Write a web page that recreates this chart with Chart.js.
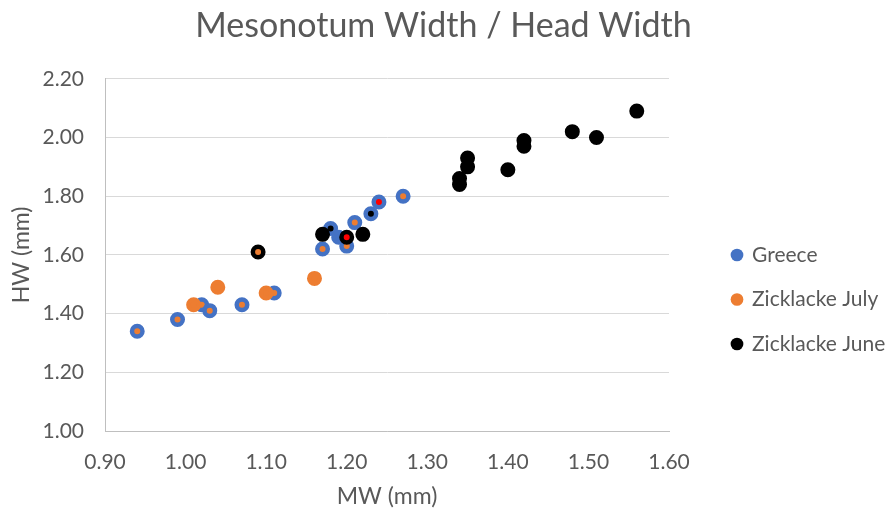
<!DOCTYPE html>
<html lang="en">
<head>
    <script src="https://cdn.jsdelivr.net/npm/chart.js"></script>
    <style>
        html, body {
            margin: 0;
            padding: 0;
            background: #ffffff;
        }
        #wrap {
            width: 887px;
            height: 511px;
            position: relative;
        }
    </style>
</head>
<body>
    <div id="wrap">
        <canvas id="myChart"></canvas>
    </div>

    <script>
        // data
        const greeceX = [0.94, 0.99, 1.02, 1.03, 1.07, 1.11, 1.17, 1.18, 1.19, 1.20, 1.21, 1.23, 1.24, 1.27];
        const greeceY = [1.34, 1.38, 1.43, 1.41, 1.43, 1.47, 1.62, 1.69, 1.66, 1.63, 1.71, 1.74, 1.78, 1.80];
        const julyX = [1.01, 1.04, 1.10, 1.16];
        const julyY = [1.43, 1.49, 1.47, 1.52];
        const juneX = [1.09, 1.17, 1.20, 1.22, 1.34, 1.34, 1.35, 1.35, 1.40, 1.42, 1.42, 1.48, 1.51, 1.56];
        const juneY = [1.61, 1.67, 1.66, 1.67, 1.84, 1.86, 1.90, 1.93, 1.89, 1.97, 1.99, 2.02, 2.00, 2.09];

        const xTicks = [0.9, 1.0, 1.1, 1.2, 1.3, 1.4, 1.5, 1.6];
        const yTicks = [1.0, 1.2, 1.4, 1.6, 1.8, 2.0, 2.2];

        const BLUE = '#4472C4';
        const ORANGE = '#ED7D31';
        const BLACK = '#000000';
        const RED = '#FF0000';
        const GREY = '#595959';

        // little dots in the middle of some markers, as in the picture
        const greeceCenters = [ORANGE, ORANGE, ORANGE, ORANGE, ORANGE, ORANGE, ORANGE, BLACK, BLUE, ORANGE, ORANGE, BLACK, RED, ORANGE];
        const juneCenters = [ORANGE, BLACK, RED, BLACK, BLACK, BLACK, BLACK, BLACK, BLACK, BLACK, BLACK, BLACK, BLACK, BLACK];

        function pts(xs, ys) {
            return xs.map((x, i) => ({ x: x, y: ys[i] }));
        }

        const FONT = 'Lato, "Open Sans", sans-serif';

        // fixed legend column width, and a gap between plot and legend
        const legendBox = {
            id: 'legendBox',
            beforeLayout(c) {
                const lg = c.legend;
                if (lg && !lg._fixed) {
                    const fit = lg.fit;
                    lg.fit = function () {
                        fit.call(this);
                        this.width = 218;
                    };
                    lg._fixed = true;
                }
            },
            afterLayout(c) {
                if (c.legend) {
                    c.legend.left += 40;
                    c.legend.right += 40;
                }
            }
        };

        const ctx = document.getElementById('myChart').getContext('2d');
        const chart = new Chart(ctx, {
            type: 'scatter',
            plugins: [legendBox],
            data: {
                datasets: [{
                    label: 'Greece',
                    data: pts(greeceX, greeceY),
                    borderColor: BLUE,
                    backgroundColor: greeceCenters,
                    pointRadius: 5.25,
                    pointBorderWidth: 4.5,
                    pointHoverRadius: 5.25,
                    order: 3
                }, {
                    label: 'Zicklacke July',
                    data: pts(julyX, julyY),
                    borderColor: ORANGE,
                    backgroundColor: ORANGE,
                    pointRadius: 5.25,
                    pointBorderWidth: 4.5,
                    pointHoverRadius: 5.25,
                    order: 2
                }, {
                    label: 'Zicklacke June',
                    data: pts(juneX, juneY),
                    borderColor: BLACK,
                    backgroundColor: juneCenters,
                    pointRadius: 5.25,
                    pointBorderWidth: 4.5,
                    pointHoverRadius: 5.25,
                    order: 1
                }]
            },
            options: {
                responsive: true,
                maintainAspectRatio: false,
                animation: false,
                layout: {
                    padding: 0
                },
                plugins: {
                    tooltip: { enabled: false },
                    title: {
                        display: true,
                        text: 'Mesonotum Width / Head Width',
                        color: GREY,
                        font: { family: FONT, size: 34, weight: 'normal' },
                        padding: { top: 6, bottom: 32 }
                    },
                    legend: {
                        position: 'right',
                        reverse: true,
                        title: {
                            display: true,
                            text: ' ',
                            font: { size: 10 },
                            padding: 38
                        },
                        labels: {
                            usePointStyle: true,
                            pointStyle: 'circle',
                            boxWidth: 9,
                            boxHeight: 9,
                            padding: 23.5,
                            color: GREY,
                            font: { family: FONT, size: 21 },
                            generateLabels: function (c) {
                                const items = Chart.defaults.plugins.legend.labels.generateLabels(c);
                                items.forEach(it => {
                                    it.fillStyle = it.strokeStyle;
                                    it.lineWidth = 0;
                                });
                                return items;
                            }
                        }
                    }
                },
                scales: {
                    x: {
                        type: 'linear',
                        min: 0.9,
                        max: 1.6,
                        afterBuildTicks: function (axis) {
                            axis.ticks = xTicks.map(v => ({ value: v }));
                        },
                        afterFit: function (axis) {
                            axis.height = 80;
                        },
                        grid: { display: false, drawTicks: false },
                        border: { display: true, color: '#BFBFBF', width: 1 },
                        ticks: {
                            color: GREY,
                            padding: 19,
                            font: { family: FONT, size: 21 },
                            callback: v => v.toFixed(2)
                        },
                        title: {
                            display: true,
                            text: 'MW (mm)',
                            color: GREY,
                            font: { family: FONT, size: 23 },
                            padding: { top: 4, bottom: 1 }
                        }
                    },
                    y: {
                        type: 'linear',
                        min: 1.0,
                        max: 2.2,
                        afterBuildTicks: function (axis) {
                            axis.ticks = yTicks.map(v => ({ value: v }));
                        },
                        afterFit: function (axis) {
                            axis.width = 105;
                        },
                        grid: { color: '#D9D9D9', lineWidth: 1, drawTicks: false },
                        border: { display: true, color: '#BFBFBF', width: 1 },
                        ticks: {
                            color: GREY,
                            padding: 21,
                            font: { family: FONT, size: 21 },
                            callback: v => v.toFixed(2)
                        },
                        title: {
                            display: true,
                            text: 'HW (mm)',
                            color: GREY,
                            font: { family: FONT, size: 23 },
                            padding: { top: 8, bottom: 0 }
                        }
                    }
                }
            }
        });
    </script>
</body>
</html>
